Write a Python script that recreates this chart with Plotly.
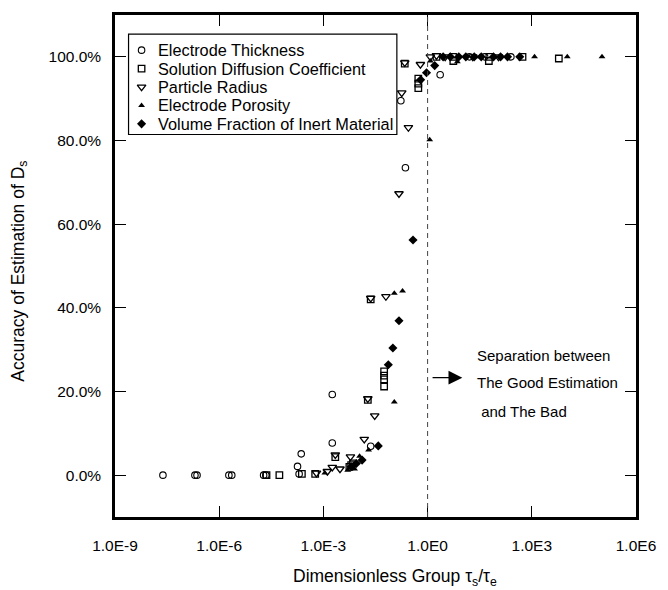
import plotly.graph_objects as go

# Dimensionless group tau_s / tau_e and accuracy of the D_s estimate (%)
thickness_x = [2.4e-8, 2.0e-7, 2.3e-7, 1.9e-6, 2.3e-6, 1.9e-5, 2.2e-5, 1.8e-4, 2.0e-4, 2.3e-4,
               1.8e-3, 1.8e-3, 2.3e-2, 0.17, 0.23, 2.3, 16, 44, 250]
thickness_y = [0, 0, 0, 0, 0, 0, 0, 2.1, 0.3, 5.1,
               19.3, 7.7, 6.9, 89.5, 73.5, 95.7, 100, 100, 100]

diffusion_x = [2.3e-5, 5.4e-5, 2.4e-4, 5.8e-4, 2.2e-3, 5.6e-3, 6.3e-3, 7.1e-3, 1.9e-2, 2.3e-2,
               5.6e-2, 5.6e-2, 5.6e-2, 5.6e-2, 0.22, 0.54, 0.54, 0.54, 1.8, 5.5, 5.4, 58, 60, 540, 6000]
diffusion_y = [0, 0, 0.3, 0.3, 4.3, 2.0, 2.4, 2.8, 18.0, 42.0,
               24.8, 23.8, 22.9, 21.2, 98.4, 94.8, 93.6, 92.5, 100, 99.0, 100, 99.0, 100, 100, 99.6]

radius_x = [6.3e-4, 1.3e-3, 1.8e-3, 3.0e-3, 2.2e-3, 6.0e-3, 1.5e-2, 1.9e-2, 2.3e-2, 3.0e-2,
            6.3e-2, 0.15, 0.18, 0.22, 0.28, 0.62, 1.2, 1.8, 3.2, 20, 110]
radius_y = [0.5, 0.9, 1.9, 1.5, 4.9, 4.4, 8.6, 18.3, 42.3, 14.2,
            42.7, 67.3, 91.4, 98.6, 83.1, 98.2, 100, 100.3, 100, 100, 100]

porosity_x = [1.1e-3, 5.0e-3, 7.9e-3, 1.1e-2, 2.0e-2, 0.11, 0.11, 0.19, 1.15, 1.2,
              7.2, 32, 1200, 10500, 105000]
porosity_y = [0.5, 1.2, 1.5, 4.5, 6.0, 17.5, 43.5, 44.0, 80.2, 99.0,
              98.8, 100, 100, 100, 100]

inert_x = [6.3e-3, 8.9e-3, 1.3e-2, 3.8e-2, 7.4e-2, 0.10, 0.15, 0.38, 0.63, 0.93,
           1.6, 2.8, 4.5, 7.9, 12.6, 22, 35, 79, 126, 200, 450]
inert_y = [2.0, 2.8, 3.6, 7.0, 26.4, 30.4, 36.9, 56.2, 94.5, 96.2,
           97.9, 100, 100, 100, 100, 100, 100, 100, 100, 100, 100]

x_tick_vals = [1e-9, 1e-6, 1e-3, 1e0, 1e3, 1e6]
x_tick_text = ["1.0E-9", "1.0E-6", "1.0E-3", "1.0E0", "1.0E3", "1.0E6"]
y_tick_vals = [0, 20, 40, 60, 80, 100]
y_tick_text = ["0.0%", "20.0%", "40.0%", "60.0%", "80.0%", "100.0%"]

separator_x = 1.0
note_lines = ["Separation between", "The Good Estimation", " and The Bad"]

FONT = "Liberation Sans, Arial, sans-serif"
INK = "black"

series = [
    ("Electrode Thickness", thickness_x, thickness_y,
     dict(symbol="circle-open", size=6.5, color=INK, line=dict(width=1.1, color=INK))),
    ("Solution Diffusion Coefficient", diffusion_x, diffusion_y,
     dict(symbol="square-open", size=6.5, color=INK, line=dict(width=1.3, color=INK))),
    ("Particle Radius", radius_x, radius_y,
     dict(symbol="triangle-down-open", size=7.5, color=INK, line=dict(width=1.3, color=INK))),
    ("Electrode Porosity", porosity_x, porosity_y,
     dict(symbol="triangle-up", size=6, color=INK, line=dict(width=0))),
    ("Volume Fraction of Inert Material", inert_x, inert_y,
     dict(symbol="diamond", size=7, color=INK, line=dict(width=0))),
]

fig = go.Figure()
for name, xs, ys, marker in series:
    fig.add_trace(go.Scatter(x=xs, y=ys, mode="markers", name=name, marker=marker,
                             showlegend=False))

# Legend drawn on an overlay axis spanning the plot area (0..1 in both directions)
leg_left, leg_right, leg_top, leg_bottom = 0.026, 0.541, 0.962, 0.762
key_x, text_x = 0.051, 0.079
row_top, row_step = 0.93, 0.0367
fig.add_shape(type="rect", xref="paper", yref="paper", layer="below",
              x0=leg_left, x1=leg_right, y0=leg_bottom, y1=leg_top,
              line=dict(color=INK, width=1.2), fillcolor="white")
for i, (name, _, _, marker) in enumerate(series):
    ry = row_top - i * row_step
    fig.add_trace(go.Scatter(x=[key_x], y=[ry], mode="markers", marker=marker,
                             xaxis="x2", yaxis="y2", showlegend=False,
                             hoverinfo="skip", cliponaxis=False))
    fig.add_annotation(x=text_x, y=ry, xref="paper", yref="paper", text=name,
                       showarrow=False, xanchor="left", yanchor="middle",
                       font=dict(family=FONT, size=16.3, color=INK))

# boundary between good and bad estimation
fig.add_shape(type="line", xref="x", yref="paper", x0=separator_x, x1=separator_x,
              y0=0, y1=1, line=dict(color="#444444", width=1, dash="5px,4px"))

fig.add_annotation(x=1.0, y=23.3, ax=0.1, ay=23.3, xref="x", yref="y",
                   axref="x", ayref="y", text="", showarrow=True,
                   arrowhead=2, arrowsize=2.3, arrowwidth=1.2, arrowcolor=INK)
for txt, yv in zip(note_lines, [28.7, 22.2, 15.3]):
    fig.add_annotation(x=1.37, y=yv, xref="x", yref="y", text=txt, showarrow=False,
                       xanchor="left", yanchor="middle",
                       font=dict(family=FONT, size=15, color=INK))

# axis titles
fig.add_annotation(x=0.538, y=-0.121, xref="paper", yref="paper",
                   text="Dimensionless Group τ<sub>s</sub>/τ<sub>e</sub>", showarrow=False,
                   xanchor="center", yanchor="middle",
                   font=dict(family=FONT, size=17.5, color=INK))
fig.add_annotation(x=-0.185, y=0.49, xref="paper", yref="paper", textangle=-90,
                   text="Accuracy of Estimation of D<sub>s</sub>", showarrow=False,
                   xanchor="center", yanchor="middle",
                   font=dict(family=FONT, size=17.5, color=INK))

axis_common = dict(ticks="inside", ticklen=11, tickwidth=1, tickcolor=INK,
                   showline=True, linewidth=2.5, linecolor=INK, mirror="ticks",
                   showgrid=False, zeroline=False,
                   tickfont=dict(family=FONT, size=15.5, color=INK))
fig.update_xaxes(type="log", range=[-9, 6], tickvals=x_tick_vals, ticktext=x_tick_text,
                 ticklabelstandoff=13, **axis_common)
fig.update_yaxes(range=[-10, 110], tickvals=y_tick_vals, ticktext=y_tick_text,
                 ticklabelstandoff=8, **axis_common)

fig.update_layout(
    width=668, height=590,
    margin=dict(l=115, r=23, t=13, b=73),
    paper_bgcolor="white", plot_bgcolor="white",
    font=dict(family=FONT, color=INK),
    showlegend=False,
    xaxis2=dict(overlaying="x", range=[0, 1], visible=False, fixedrange=True),
    yaxis2=dict(overlaying="y", range=[0, 1], visible=False, fixedrange=True),
)

fig.write_html("out.html")
